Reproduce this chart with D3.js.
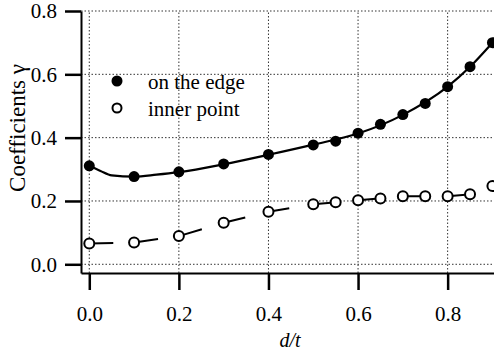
<!DOCTYPE html>
<html>
<head>
<meta charset="utf-8">
<script src="https://cdn.jsdelivr.net/npm/d3@7"></script>
<style>
  body { margin: 0; background: #fff; }
  svg { display: block; font-family: "Liberation Serif", "Times New Roman", serif; }
</style>
</head>
<body>
<div id="chart"></div>
<script>
// measured points (d/t)
const dValues = [0, 0.1, 0.2, 0.3, 0.4, 0.5, 0.55, 0.6, 0.65, 0.7, 0.75, 0.8, 0.85, 0.9];
const edgeValues = [0.311, 0.277, 0.292, 0.317, 0.347, 0.377, 0.389, 0.414, 0.442, 0.473, 0.508, 0.561, 0.624, 0.700];
const innerValues = [0.066, 0.069, 0.089, 0.131, 0.166, 0.190, 0.196, 0.202, 0.208, 0.215, 0.215, 0.215, 0.221, 0.247];

// fitted curve through the edge points
const fitD = [0, 0.025, 0.05, 0.1, 0.15, 0.2, 0.3, 0.4, 0.5, 0.6, 0.7, 0.8, 0.85, 0.9];
const fitValues = [0.311, 0.295, 0.281, 0.277, 0.283, 0.291, 0.316, 0.346, 0.378, 0.413, 0.472, 0.561, 0.624, 0.700];

const xTicks = [0, 0.2, 0.4, 0.6, 0.8];
const yTicks = [0, 0.2, 0.4, 0.6, 0.8];
const legendLabels = ["on the edge", "inner point"];

const width = 494, height = 354;
const margin = { top: 11, right: 0, bottom: 81, left: 81 };

const svg = d3.select("#chart").append("svg")
    .attr("width", width)
    .attr("height", height);

const x = d3.scaleLinear()
    .domain([-0.0185, 0.9035])
    .range([margin.left, width - margin.right]);

const y = d3.scaleLinear()
    .domain([-0.0275, 0.8])
    .range([height - margin.bottom, margin.top]);

// grid
const grid = svg.append("g")
    .attr("stroke", "#333")
    .attr("stroke-width", 1)
    .attr("stroke-dasharray", "1.5,2");

grid.selectAll(".vgrid")
    .data(xTicks)
    .join("line")
    .attr("class", "vgrid")
    .attr("x1", d => x(d)).attr("x2", d => x(d))
    .attr("y1", y.range()[0]).attr("y2", y.range()[1]);

grid.selectAll(".hgrid")
    .data(yTicks)
    .join("line")
    .attr("class", "hgrid")
    .attr("x1", x.range()[0]).attr("x2", x.range()[1])
    .attr("y1", d => y(d)).attr("y2", d => y(d));

// axes
const xAxis = d3.axisBottom(x)
    .tickValues(xTicks)
    .tickFormat(d3.format(".1f"))
    .tickSize(17)
    .tickSizeOuter(0)
    .tickPadding(16);

const yAxis = d3.axisLeft(y)
    .tickValues(yTicks)
    .tickFormat(d3.format(".1f"))
    .tickSize(16)
    .tickSizeOuter(0)
    .tickPadding(8);

const gx = svg.append("g")
    .attr("transform", `translate(0,${height - margin.bottom})`)
    .call(xAxis);

const gy = svg.append("g")
    .attr("transform", `translate(${margin.left},0)`)
    .call(yAxis);

[gx, gy].forEach(g => {
    g.select(".domain").attr("stroke", "#000").attr("stroke-width", 2);
    g.selectAll(".tick line").attr("stroke", "#000").attr("stroke-width", 2.5);
    g.selectAll(".tick text")
        .attr("fill", "#000")
        .attr("font-size", 21)
        .attr("font-family", "Liberation Serif, serif");
});

// axis titles
svg.append("text")
    .attr("transform", `translate(25,128) rotate(-90)`)
    .attr("text-anchor", "middle")
    .attr("font-size", 23)
    .text("Coefficients γ");

svg.append("text")
    .attr("x", 290)
    .attr("y", 347)
    .attr("text-anchor", "middle")
    .attr("font-size", 20)
    .attr("font-style", "italic")
    .text("d/t");

const innerData = d3.zip(dValues, innerValues);
const edgeData = d3.zip(dValues, edgeValues);
const fitData = d3.zip(fitD, fitValues);

const line = d3.line()
    .x(d => x(d[0]))
    .y(d => y(d[1]));

// inner point series, long dashes
svg.append("path")
    .datum(innerData)
    .attr("fill", "none")
    .attr("stroke", "#000")
    .attr("stroke-width", 2)
    .attr("stroke-dasharray", "24,21")
    .attr("d", line);

// fit for the edge series
svg.append("path")
    .datum(fitData)
    .attr("fill", "none")
    .attr("stroke", "#000")
    .attr("stroke-width", 2.2)
    .attr("d", line.curve(d3.curveMonotoneX));

svg.selectAll(".edge")
    .data(edgeData)
    .join("circle")
    .attr("class", "edge")
    .attr("cx", d => x(d[0]))
    .attr("cy", d => y(d[1]))
    .attr("r", 5.5)
    .attr("fill", "#000");

svg.selectAll(".inner")
    .data(innerData)
    .join("circle")
    .attr("class", "inner")
    .attr("cx", d => x(d[0]))
    .attr("cy", d => y(d[1]))
    .attr("r", 5)
    .attr("fill", "#fff")
    .attr("stroke", "#000")
    .attr("stroke-width", 2);

// legend
const legend = svg.append("g");
legendLabels.forEach((label, i) => {
    const cy = 81 + i * 27;
    legend.append("circle")
        .attr("cx", 117)
        .attr("cy", cy)
        .attr("r", i === 0 ? 5.5 : 4.5)
        .attr("fill", i === 0 ? "#000" : "#fff")
        .attr("stroke", "#000")
        .attr("stroke-width", i === 0 ? 0 : 2);
    legend.append("text")
        .attr("x", 148)
        .attr("y", cy + 8)
        .attr("font-size", 21)
        .text(label);
});
</script>
</body>
</html>
